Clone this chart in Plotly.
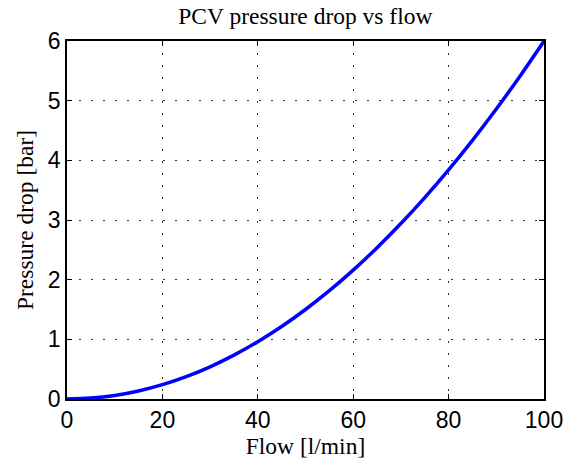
import plotly.graph_objects as go

flow = [0, 5, 10, 15, 20, 25, 30, 35, 40, 45, 50, 55, 60, 65, 70, 75, 80, 85, 90, 95, 100]
dp = [0, 0.015, 0.06, 0.135, 0.24, 0.375, 0.54, 0.735, 0.96, 1.215, 1.5, 1.815,
      2.16, 2.535, 2.94, 3.375, 3.84, 4.335, 4.86, 5.415, 6.0]
xticks = [0, 20, 40, 60, 80, 100]
yticks = [0, 1, 2, 3, 4, 5, 6]

serif = dict(family="Liberation Serif, Times New Roman", size=23.5, color="black")

fig = go.Figure()
fig.add_trace(go.Scatter(x=flow, y=dp, mode="lines", line=dict(color="#0000ff", width=3.5, shape="spline")))

axis_common = dict(
    showline=True, linecolor="black", linewidth=1.5, mirror="ticks",
    ticks="inside", ticklen=5, tickcolor="black", tickwidth=1,
    showgrid=True, gridcolor="#333333", gridwidth=1, griddash="1.5px,10.5px",
    zeroline=False, automargin=False,
    tickfont=dict(family="Liberation Sans, Arial", size=23, color="black"),
)

fig.update_layout(
    width=565, height=463,
    margin=dict(l=67, r=21, t=41, b=64),
    paper_bgcolor="white", plot_bgcolor="white",
    showlegend=False,
    title=dict(text="PCV pressure drop vs flow", x=0.5405, xanchor="center", y=0.966, yanchor="middle",
               font=serif),
    xaxis=dict(range=[0, 100], tickvals=xticks,
               title=dict(text="Flow [l/min]", standoff=2, font=serif),
               **axis_common),
    yaxis=dict(range=[0, 6], tickvals=yticks,
               title=dict(text="Pressure drop [bar]", standoff=8, font=serif),
               **axis_common),
)

fig.write_html("out.html")
